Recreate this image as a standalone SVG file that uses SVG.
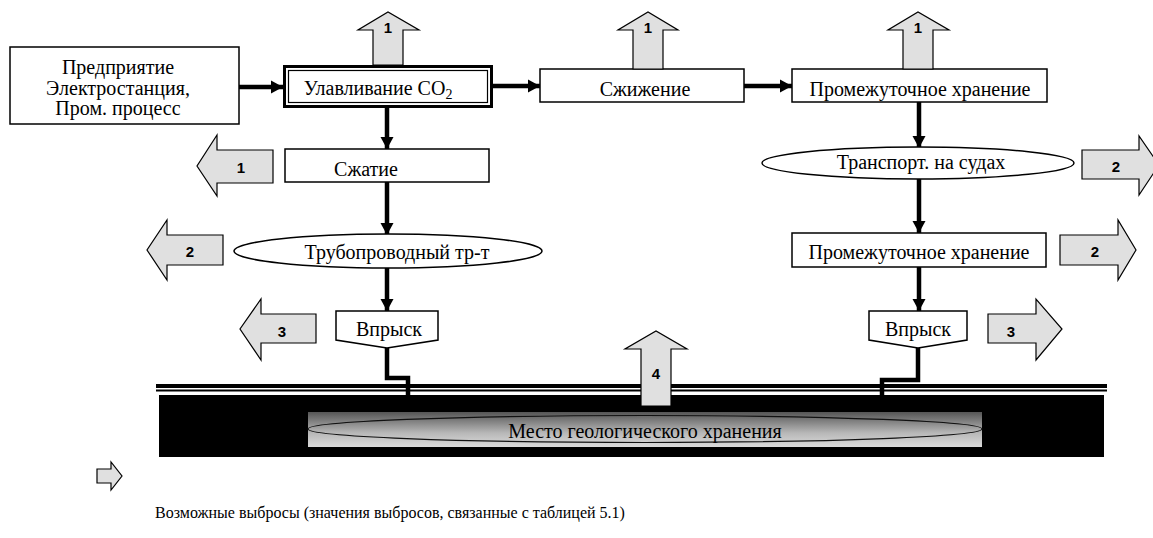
<svg xmlns="http://www.w3.org/2000/svg" width="1153" height="538" viewBox="0 0 1153 538">
<style>
.box{fill:#fff;stroke:#000;stroke-width:1.5}
.t{font-family:"Liberation Serif","Tinos","Times New Roman","DejaVu Serif","Noto Serif",serif;font-size:20px;fill:#000;text-anchor:middle}
.em{fill:#e0e0e0;stroke:#000;stroke-width:1.2;stroke-linejoin:miter}
.n{font-family:"Liberation Sans",Arial,sans-serif;font-size:15px;font-weight:bold;fill:#000;text-anchor:middle}
.c{fill:none;stroke:#000;stroke-width:4.5}
</style>
<defs>
<marker id="ah" markerUnits="userSpaceOnUse" markerWidth="14" markerHeight="14" viewBox="0 0 14 14" refX="12" refY="7" orient="auto">
<path d="M0,0.5 L12,7 L0,13.5 Z" fill="#000"/>
</marker>
<linearGradient id="g" x1="0" y1="0" x2="0" y2="1">
<stop offset="0" stop-color="#555"/>
<stop offset="0.6" stop-color="#b8b8b8"/>
<stop offset="1" stop-color="#dadada"/>
</linearGradient>
</defs>

<g id="ground">
<rect x="156" y="384" width="951" height="4" fill="#000"/>
<rect x="156" y="389.5" width="951" height="2" fill="#000"/>
<rect x="159" y="395" width="945" height="62" fill="#000"/>
</g>
<g id="storage">
<rect x="308" y="412" width="674" height="35" fill="url(#g)"/>
<ellipse cx="645" cy="429" rx="337" ry="13.5" fill="none" stroke="#111" stroke-width="1.2"/>
<text class="t" x="645" y="438" font-size="19">Место геологического хранения</text>
</g>

<g id="connectors">
<line class="c" x1="239" y1="87" x2="283" y2="87" marker-end="url(#ah)"/>
<line class="c" x1="493" y1="86" x2="540" y2="86" marker-end="url(#ah)"/>
<line class="c" x1="744" y1="86" x2="792" y2="86" marker-end="url(#ah)"/>
<line class="c" x1="387" y1="108" x2="387" y2="149" marker-end="url(#ah)"/>
<line class="c" x1="387" y1="182" x2="387" y2="235" marker-end="url(#ah)"/>
<line class="c" x1="387" y1="268" x2="387" y2="311" marker-end="url(#ah)"/>
<polyline class="c" points="387,348 387,378 408,378 408,395"/>
<line class="c" x1="919" y1="102" x2="919" y2="148" marker-end="url(#ah)"/>
<line class="c" x1="919" y1="179" x2="919" y2="233" marker-end="url(#ah)"/>
<line class="c" x1="919" y1="267" x2="919" y2="311" marker-end="url(#ah)"/>
<polyline class="c" points="918,348 918,380 882,380 882,395"/>
</g>

<g id="enterprise">
<rect class="box" x="10" y="47" width="229" height="77"/>
<text class="t" x="118" y="74">Предприятие</text>
<text class="t" x="118" y="95">Электростанция,</text>
<text class="t" x="118" y="115">Пром. процесс</text>
</g>

<g id="capture">
<rect x="284.5" y="66.5" width="207" height="40" fill="#fff" stroke="#000" stroke-width="3"/>
<rect x="288.5" y="70.5" width="199" height="32" fill="none" stroke="#000" stroke-width="1.2"/>
<text class="t" x="378" y="95">Улавливание CO<tspan font-size="14" dy="4">2</tspan></text>
</g>

<g id="liquefaction">
<rect class="box" x="540" y="69" width="204" height="33"/>
<text class="t" x="645" y="96">Сжижение</text>
</g>

<g id="interim1">
<rect class="box" x="792" y="69" width="255" height="33"/>
<text class="t" x="920" y="96">Промежуточное хранение</text>
</g>

<g id="compression">
<rect class="box" x="285" y="149" width="204" height="33"/>
<text class="t" x="366" y="176">Сжатие</text>
</g>

<g id="pipeline">
<ellipse class="box" cx="388" cy="251" rx="154" ry="17"/>
<text class="t" x="397" y="259">Трубопроводный тр-т</text>
</g>

<g id="ship">
<ellipse class="box" cx="918" cy="163" rx="156" ry="16"/>
<text class="t" x="921" y="169">Транспорт. на судах</text>
</g>

<g id="interim2">
<rect class="box" x="792" y="233" width="254" height="34"/>
<text class="t" x="919" y="259">Промежуточное хранение</text>
</g>

<g id="injection1">
<path class="box" d="M336,311 H438 V340 L387,348 L336,340 Z"/>
<text class="t" x="389" y="336">Впрыск</text>
</g>

<g id="injection2">
<path class="box" d="M869,311 H967 V340 L918,348 L869,340 Z"/>
<text class="t" x="918" y="336">Впрыск</text>
</g>

<g id="emission-up-1">
<path class="em" d="M373,65 V30 H358 L388,12 L419,30 H403 V65 Z"/>
<text class="n" x="388" y="33">1</text>
</g>
<g id="emission-up-2">
<path class="em" d="M633,69 V30 H618 L648,12 L678,30 H663 V69 Z"/>
<text class="n" x="648" y="33">1</text>
</g>
<g id="emission-up-3">
<path class="em" d="M903,69 V30 H888 L918,12 L949,30 H933 V69 Z"/>
<text class="n" x="918" y="33">1</text>
</g>
<g id="emission-left-1">
<path class="em" d="M273,150 H217 V135 L197,166 L217,196 V183 H273 Z"/>
<text class="n" x="241" y="173">1</text>
</g>
<g id="emission-left-2">
<path class="em" d="M223,235 H167 V220 L147,250 L167,280 V265 H223 Z"/>
<text class="n" x="190" y="257">2</text>
</g>
<g id="emission-left-3">
<path class="em" d="M316,314 H261 V299 L240,329 L261,360 V343 H316 Z"/>
<text class="n" x="282" y="337">3</text>
</g>
<g id="emission-right-1">
<path class="em" d="M1082,150 H1139 V136 L1159,165 L1139,195 V179 H1082 Z"/>
<text class="n" x="1116" y="172">2</text>
</g>
<g id="emission-right-2">
<path class="em" d="M1060,235 H1118 V220 L1136,250 L1118,280 V265 H1060 Z"/>
<text class="n" x="1095" y="257">2</text>
</g>
<g id="emission-right-3">
<path class="em" d="M988,314 H1036 V299 L1062,329 L1036,360 V343 H988 Z"/>
<text class="n" x="1011" y="337">3</text>
</g>
<g id="emission-up-4">
<path class="em" d="M641,406 V349 H625 L656,331 L687,349 H671 V406 Z"/>
<text class="n" x="656" y="379">4</text>
</g>

<g id="legend">
<path class="em" d="M97,469 H111 V462 L122,476 L111,490 V483 H97 Z"/>
<text x="155" y="518" font-family="'Liberation Serif','Tinos','Times New Roman','DejaVu Serif',serif" font-size="16" fill="#000">Возможные выбросы (значения выбросов, связанные с таблицей 5.1)</text>
</g>
</svg>
